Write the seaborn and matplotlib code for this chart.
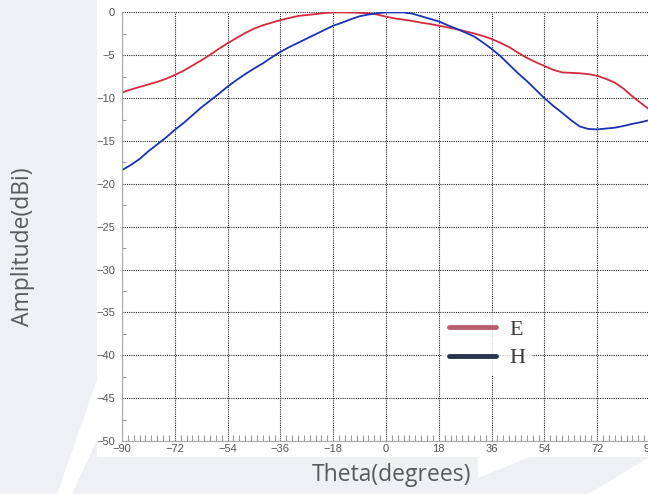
import matplotlib
matplotlib.use('Agg')
import numpy as np
import pandas as pd
import matplotlib.pyplot as plt
import seaborn as sns
from matplotlib.lines import Line2D
from matplotlib.patches import Polygon, Rectangle
from matplotlib.ticker import MultipleLocator

# угол, градусы
theta = [-90, -87, -84, -81, -78, -75, -72, -69, -66, -63, -60, -57, -54, -51,
         -48, -45, -42, -39, -36, -33, -30, -27, -24, -21, -18, -15, -12, -9,
         -6, -3, 0, 3, 6, 9, 12, 15, 18, 21, 24, 27, 30, 33, 36, 39, 42, 45,
         48, 51, 54, 57, 60, 63, 66, 69, 72, 75, 78, 81, 84, 87, 90]

# E-плоскость, дБи
e_plane = [-9.35, -9.0, -8.7, -8.4, -8.1, -7.75, -7.3, -6.8, -6.2, -5.6, -4.95,
           -4.25, -3.6, -3.0, -2.4, -1.9, -1.5, -1.2, -0.9, -0.65, -0.42,
           -0.3, -0.2, -0.08, 0.0, 0.0, -0.02, -0.05, -0.1, -0.25, -0.5, -0.7,
           -0.85, -1.0, -1.2, -1.35, -1.55, -1.75, -1.95, -2.2, -2.45, -2.75,
           -3.1, -3.55, -4.05, -4.7, -5.3, -5.8, -6.25, -6.7, -7.0, -7.05,
           -7.1, -7.2, -7.4, -7.75, -8.2, -8.9, -9.8, -10.6, -11.4]

# H-плоскость, дБи
h_plane = [-18.4, -17.8, -17.1, -16.2, -15.4, -14.6, -13.7, -12.9, -12.0, -11.1,
           -10.3, -9.5, -8.65, -7.9, -7.2, -6.55, -5.95, -5.25, -4.6, -4.05,
           -3.55, -3.05, -2.55, -2.05, -1.55, -1.2, -0.8, -0.45, -0.25, -0.1,
           0.0, 0.0, 0.0, -0.15, -0.45, -0.75, -1.05, -1.5, -1.9, -2.35, -2.8,
           -3.5, -4.25, -5.1, -6.1, -7.1, -8.0, -9.0, -10.0, -10.9, -11.7,
           -12.55, -13.3, -13.6, -13.65, -13.55, -13.45, -13.25, -13.0, -12.8,
           -12.55]

x_ticks = [-90, -72, -54, -36, -18, 0, 18, 36, 54, 72, 90]
y_ticks = [0, -5, -10, -15, -20, -25, -30, -35, -40, -45, -50]

df = pd.DataFrame({
    'Theta': theta * 2,
    'Amp': e_plane + h_plane,
    'Plane': ['E'] * len(theta) + ['H'] * len(theta),
})

sns.set_theme(style="white")
plt.rcParams['font.family'] = ['Liberation Sans', 'DejaVu Sans']

W, H = 648, 494
fig = plt.figure(figsize=(W / 100, H / 100), dpi=100, facecolor='#eff0f4')


def px(x, y):
    return (x / W, 1 - y / H)


# фон слайда
fig.add_artist(Polygon([px(57, 494), px(72, 494), px(97, 440), px(97, 380)],
                       closed=True, transform=fig.transFigure,
                       facecolor='white', edgecolor='none', zorder=0))
fig.add_artist(Polygon([px(588, 494), px(648, 494), px(648, 458)],
                       closed=True, transform=fig.transFigure,
                       facecolor='white', edgecolor='none', zorder=0))
fig.add_artist(Polygon([px(478, 457), px(530, 457), px(478, 478)],
                       closed=True, transform=fig.transFigure,
                       facecolor='white', edgecolor='none', zorder=0))
fig.add_artist(Rectangle(px(97, 457), (W - 97) / W, 457 / H,
                         transform=fig.transFigure,
                         facecolor='white', edgecolor='none', zorder=0))

ax = fig.add_axes([122 / W, 1 - 441 / H, 528 / W, 428.6 / H])
ax.patch.set_alpha(0)

sns.lineplot(data=df, x='Theta', y='Amp', hue='Plane',
             palette={'E': '#d42a3c', 'H': '#1833b4'},
             linewidth=1.3, legend=False, ax=ax)

ax.set_xlim(-90, 90)
ax.set_ylim(-50, 0)
ax.set_xticks(x_ticks)
ax.set_yticks(y_ticks)
ax.xaxis.set_minor_locator(MultipleLocator(2))
ax.yaxis.set_minor_locator(MultipleLocator(2.5))
ax.set_xlabel('')
ax.set_ylabel('')

ax.grid(True, which='major', color='#2a2a2a', linestyle=(0, (1, 1)), linewidth=0.8)
ax.tick_params(axis='both', which='major', labelsize=8, labelcolor='#555555',
               color='#999999', length=4, width=0.8, pad=1)
ax.tick_params(axis='x', which='minor', direction='in', length=4,
               color='#999999', width=0.8, bottom=True)
ax.tick_params(axis='y', which='minor', direction='in', length=3,
               color='#999999', width=0.8, left=True)
ax.tick_params(axis='x', which='major', direction='in', length=0, pad=2)

for side in ['top', 'right']:
    ax.spines[side].set_visible(False)
for side in ['left', 'bottom']:
    ax.spines[side].set_color('#aaaaaa')
    ax.spines[side].set_linewidth(0.8)

# легенда
handles = [Line2D([], [], color='#b8606e', linewidth=3.5),
           Line2D([], [], color='#27344e', linewidth=3.5)]
leg = fig.legend(handles, ['E', 'H'], loc='center',
                 bbox_to_anchor=px(487, 344), frameon=True,
                 prop={'family': ['Liberation Serif', 'DejaVu Serif'], 'size': 16},
                 handlelength=2.1, handletextpad=0.6, labelspacing=0.35,
                 borderpad=0.3)
leg.get_frame().set_edgecolor('none')
leg.get_frame().set_facecolor('white')
for t in leg.get_texts():
    t.set_color('#3a3a3a')

fig.text(*px(392, 475), 'Theta(degrees)', ha='center', va='center',
         fontsize=16.5, color='#5a5a5a', family=['Open Sans', 'DejaVu Sans'])
fig.text(*px(23, 247), 'Amplitude(dBi)', ha='center', va='center',
         rotation=90, fontsize=16.5, color='#5a5a5a',
         family=['Open Sans', 'DejaVu Sans'])

fig.savefig('out.png', dpi=100, facecolor=fig.get_facecolor())
